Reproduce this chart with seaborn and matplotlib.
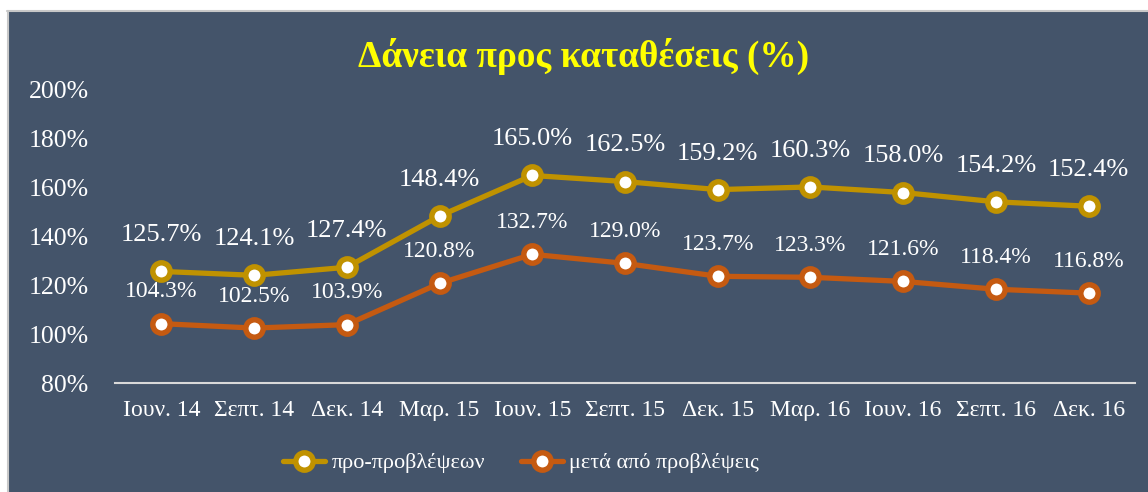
import matplotlib
matplotlib.use("Agg")
import matplotlib.pyplot as plt
import matplotlib.patches as mpatches
from matplotlib.lines import Line2D
import seaborn as sns
import pandas as pd

categories = ["Ιουν. 14", "Σεπτ. 14", "Δεκ. 14", "Μαρ. 15", "Ιουν. 15", "Σεπτ. 15",
              "Δεκ. 15", "Μαρ. 16", "Ιουν. 16", "Σεπτ. 16", "Δεκ. 16"]
pre_provisions = [125.7, 124.1, 127.4, 148.4, 165.0, 162.5, 159.2, 160.3, 158.0, 154.2, 152.4]
post_provisions = [104.3, 102.5, 103.9, 120.8, 132.7, 129.0, 123.7, 123.3, 121.6, 118.4, 116.8]
series_names = ["προ-προβλέψεων", "μετά από προβλέψεις"]
y_ticks = [80, 100, 120, 140, 160, 180, 200]
title = "Δάνεια προς καταθέσεις (%)"

BG = "#44546A"
GOLD = "#C09200"
ORANGE = "#C55A11"

sns.set_theme(style="white")
plt.rcParams["font.family"] = ["Liberation Serif", "DejaVu Serif"]

fig = plt.figure(figsize=(11.48, 4.92), dpi=100, facecolor=BG)
# white strip at top / left and thin gray frame line
fig.patches.append(mpatches.Rectangle((0, 1 - 10 / 492), 1, 10 / 492, transform=fig.transFigure,
                                      facecolor="white", edgecolor="none", zorder=0))
fig.patches.append(mpatches.Rectangle((0, 0), 7 / 1148, 1, transform=fig.transFigure,
                                      facecolor="white", edgecolor="none", zorder=0))
fig.add_artist(Line2D([7 / 1148, 1], [1 - 10.5 / 492, 1 - 10.5 / 492], transform=fig.transFigure,
                      color="#C8C8C8", lw=1.5))
fig.add_artist(Line2D([7.5 / 1148, 7.5 / 1148], [0, 1 - 10.5 / 492], transform=fig.transFigure,
                      color="#C8C8C8", lw=1.5))

ax = fig.add_axes([115 / 1148, 1 - 383 / 492, (1135 - 115) / 1148, (383 - 90) / 492])
ax.set_facecolor(BG)

df = pd.DataFrame({"cat": categories, "pre": pre_provisions, "post": post_provisions})

MS = 12.5
MEW = 3.9
for col, color, off, fs in [("pre", GOLD, 26, 19), ("post", ORANGE, 23, 17)]:
    sns.lineplot(data=df, x="cat", y=col, ax=ax, sort=False, color=color, lw=3.8,
                 marker="o", markersize=MS, markerfacecolor="white",
                 markeredgecolor=color, markeredgewidth=MEW, zorder=3)
    for i, v in enumerate(df[col]):
        ax.annotate(f"{v:.1f}%", (i, v), xytext=(0, off), textcoords="offset points",
                    ha="center", va="center", color="white", fontsize=fs)

ax.set_xlim(-0.5, len(categories) - 0.5)
ax.set_ylim(80, 200)
ax.set_yticks(y_ticks)
ax.set_yticklabels([f"{t}%" for t in y_ticks])
ax.set_xlabel("")
ax.set_ylabel("")
ax.tick_params(axis="y", length=0, pad=19, labelsize=18.5, labelcolor="white")
ax.tick_params(axis="x", length=0, pad=12, labelsize=17, labelcolor="white")
for s in ["top", "right", "left"]:
    ax.spines[s].set_visible(False)
ax.spines["bottom"].set_color("#D9D9D9")
ax.spines["bottom"].set_linewidth(1.5)
ax.grid(False)

fig.text(584 / 1148, 1 - 56 / 492, title, ha="center", va="center", color="#FFFF00",
         fontsize=26.8, fontweight="bold")

handles = [Line2D([], [], color=c, lw=3.8, marker="o", markersize=MS, markerfacecolor="white",
                  markeredgecolor=c, markeredgewidth=MEW) for c in (GOLD, ORANGE)]
fig.legend(handles, series_names, loc="center", bbox_to_anchor=(521 / 1148, 1 - 463 / 492),
           ncol=2, frameon=False, fontsize=16, labelcolor="white", handlelength=1.9,
           columnspacing=1.6, handletextpad=0.3)

fig.savefig("out.png", dpi=100, facecolor=BG)
